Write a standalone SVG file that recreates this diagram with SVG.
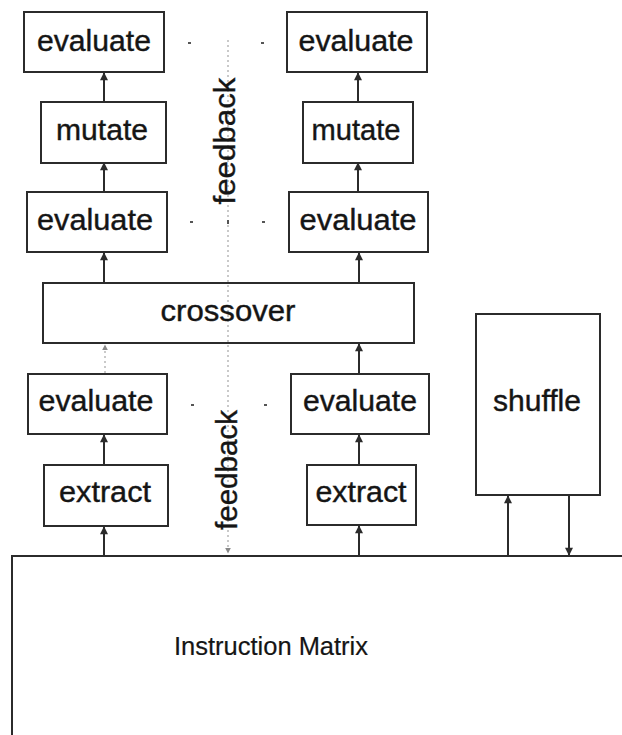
<svg xmlns="http://www.w3.org/2000/svg" width="622" height="735" viewBox="0 0 622 735">
  <style>
    .box { fill: none; stroke: #2b2b2b; stroke-width: 2; }
    .lbl { font-family: "Liberation Sans", Arial, sans-serif; font-size: 30px; fill: #151515; stroke: #151515; stroke-width: 0.4; text-anchor: middle; }
    .big { font-size: 26px; stroke-width: 0.2; }
    .arrow { stroke: #2b2b2b; stroke-width: 2; fill: none; marker-end: url(#head); }
    .faint { stroke: #b8b8b8; stroke-width: 1.5; stroke-dasharray: 2 3; fill: none; }
    .dot { fill: #555; }
  </style>
  <defs>
    <marker id="head" viewBox="0 0 10 10" refX="9" refY="5" markerWidth="4.5" markerHeight="4" orient="auto" markerUnits="strokeWidth">
      <path d="M0,0 L10,5 L0,10 z" fill="#2b2b2b"/>
    </marker>
    <marker id="headFaint" viewBox="0 0 10 10" refX="9" refY="5" markerWidth="4" markerHeight="4" orient="auto" markerUnits="strokeWidth">
      <path d="M0,0 L10,5 L0,10 z" fill="#888"/>
    </marker>
  </defs>

  <!-- connectors -->
  <g id="connectors">
    <!-- feedback path down the middle -->
    <line class="faint" x1="228" y1="40" x2="228" y2="553" marker-end="url(#headFaint)"/>
    <!-- left column -->
    <line class="arrow" x1="104" y1="102" x2="104" y2="73"/>
    <line class="arrow" x1="104" y1="192" x2="104" y2="163"/>
    <line class="arrow" x1="104" y1="283" x2="104" y2="253"/>
    <line class="faint" x1="105" y1="373" x2="105" y2="345" marker-end="url(#headFaint)"/>
    <line class="arrow" x1="104" y1="465" x2="104" y2="435"/>
    <line class="arrow" x1="104" y1="556" x2="104" y2="527"/>
    <!-- right column -->
    <line class="arrow" x1="358" y1="102" x2="358" y2="73"/>
    <line class="arrow" x1="358" y1="192" x2="358" y2="163"/>
    <line class="arrow" x1="359" y1="283" x2="359" y2="253"/>
    <line class="arrow" x1="359" y1="374" x2="359" y2="344"/>
    <line class="arrow" x1="359" y1="465" x2="359" y2="435"/>
    <line class="arrow" x1="359" y1="556" x2="359" y2="526"/>
    <!-- shuffle exchange -->
    <line class="arrow" x1="508" y1="556" x2="508" y2="496"/>
    <line class="arrow" x1="569" y1="495" x2="569" y2="555"/>
    <!-- ellipsis marks between the two columns -->
    <rect class="dot" x="188" y="42" width="3" height="2"/>
    <rect class="dot" x="261" y="42" width="3" height="2"/>
    <rect class="dot" x="190" y="221" width="3" height="2"/>
    <rect class="dot" x="227" y="220" width="2" height="4"/>
    <rect class="dot" x="262" y="221" width="3" height="2"/>
    <rect class="dot" x="191" y="404" width="3" height="2"/>
    <rect class="dot" x="264" y="404" width="3" height="2"/>
  </g>

  <!-- left column -->
  <g id="evalL1"><rect class="box" x="24" y="12" width="140" height="60"/><text class="lbl" x="94" y="51" textLength="114" lengthAdjust="spacingAndGlyphs">evaluate</text></g>
  <g id="mutateL"><rect class="box" x="41" y="102" width="125" height="61"/><text class="lbl" x="102" y="140" textLength="92" lengthAdjust="spacingAndGlyphs">mutate</text></g>
  <g id="evalL2"><rect class="box" x="27" y="192" width="140" height="60"/><text class="lbl" x="95" y="230" textLength="116" lengthAdjust="spacingAndGlyphs">evaluate</text></g>
  <g id="evalL3"><rect class="box" x="28" y="374" width="139" height="60"/><text class="lbl" x="96" y="411" textLength="115" lengthAdjust="spacingAndGlyphs">evaluate</text></g>
  <g id="extractL"><rect class="box" x="44" y="465" width="124" height="61"/><text class="lbl" x="105" y="502" textLength="92" lengthAdjust="spacingAndGlyphs">extract</text></g>

  <!-- right column -->
  <g id="evalR1"><rect class="box" x="287" y="12" width="140" height="60"/><text class="lbl" x="356" y="51" textLength="115" lengthAdjust="spacingAndGlyphs">evaluate</text></g>
  <g id="mutateR"><rect class="box" x="303" y="102" width="110" height="61"/><text class="lbl" x="356" y="140" textLength="89" lengthAdjust="spacingAndGlyphs">mutate</text></g>
  <g id="evalR2"><rect class="box" x="289" y="192" width="139" height="60"/><text class="lbl" x="358" y="230" textLength="117" lengthAdjust="spacingAndGlyphs">evaluate</text></g>
  <g id="evalR3"><rect class="box" x="291" y="374" width="138" height="60"/><text class="lbl" x="360" y="411" textLength="114" lengthAdjust="spacingAndGlyphs">evaluate</text></g>
  <g id="extractR"><rect class="box" x="307" y="465" width="109" height="60"/><text class="lbl" x="361" y="502" textLength="91" lengthAdjust="spacingAndGlyphs">extract</text></g>

  <!-- shared stage -->
  <g id="crossover"><rect class="box" x="43" y="283" width="371" height="60"/><text class="lbl" x="228" y="321" textLength="135" lengthAdjust="spacingAndGlyphs">crossover</text></g>

  <!-- feedback labels -->
  <g id="feedbackTop"><text class="lbl" transform="translate(235,141) rotate(-90)" textLength="127" lengthAdjust="spacingAndGlyphs">feedback</text></g>
  <g id="feedbackBottom"><text class="lbl" transform="translate(237,470) rotate(-90)" textLength="120" lengthAdjust="spacingAndGlyphs">feedback</text></g>

  <g id="shuffle"><rect class="box" x="476" y="314" width="124" height="181"/><text class="lbl" x="537" y="411" textLength="88" lengthAdjust="spacingAndGlyphs">shuffle</text></g>

  <g id="matrix">
    <path class="box" d="M12,735 L12,556 L622,556"/>
    <text class="lbl big" x="271" y="655" textLength="194" lengthAdjust="spacingAndGlyphs">Instruction Matrix</text>
  </g>
</svg>
